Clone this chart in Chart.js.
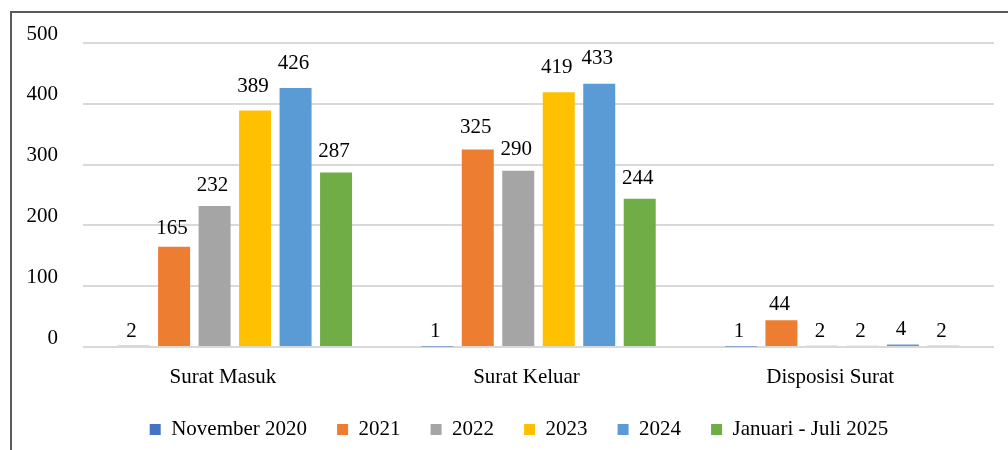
<!DOCTYPE html>
<html>
<head>
<meta charset="utf-8">
<script src="https://cdn.jsdelivr.net/npm/chart.js@4.4.1/dist/chart.umd.min.js"></script>
<style>
  html, body { margin: 0; padding: 0; background: #fff; }
  #wrap { position: relative; width: 1008px; height: 450px; overflow: hidden; }
  #frame { position: absolute; left: 10px; top: 11px; width: 1200px; height: 800px;
           border-left: 2px solid #5a5a5a; border-top: 2px solid #5a5a5a; pointer-events: none; }
</style>
</head>
<body>
<div id="wrap">
  <canvas id="chart" width="1008" height="450"></canvas>
  <div id="frame"></div>
</div>
<script>
// --- Data ---
const categories = ['Surat Masuk', 'Surat Keluar', 'Disposisi Surat'];
const seriesNames = ['November 2020', '2021', '2022', '2023', '2024', 'Januari - Juli 2025'];
const nov2020 = [2, 1, 1];
const y2021 = [165, 325, 44];
const y2022 = [232, 290, 2];
const y2023 = [389, 419, 2];
const y2024 = [426, 433, 4];
const janJul2025 = [287, 244, 2];
const yTicks = [0, 100, 200, 300, 400, 500];

const colors = ['#4472C4', '#ED7D31', '#A5A5A5', '#FFC000', '#5B9BD5', '#70AD47'];
const allValues = [nov2020, y2021, y2022, y2023, y2024, janJul2025];

const FONT = '"Liberation Serif", "Times New Roman", serif';
const FONT_SIZE = 21;

// --- Value labels above bars ---
const valueLabels = {
  id: 'valueLabels',
  afterDatasetsDraw(chart) {
    const ctx = chart.ctx;
    ctx.save();
    ctx.font = FONT_SIZE + 'px ' + FONT;
    ctx.fillStyle = '#000';
    ctx.textAlign = 'center';
    ctx.textBaseline = 'alphabetic';
    chart.data.datasets.forEach((ds, i) => {
      chart.getDatasetMeta(i).data.forEach((bar, j) => {
        const gap = 9 + ds.data[j] * 0.024;
        ctx.fillText(String(ds.data[j]), bar.x - 2, bar.y - gap);
      });
    });
    ctx.restore();
  }
};

// --- Keep legend items spread wide but its block short, nudged right ---
const legendTweak = {
  id: 'legendTweak',
  beforeUpdate(chart) {
    const lg = chart.legend;
    if (lg && !lg._patched) {
      const fit = lg.fit;
      const draw = lg.draw;
      lg.fit = function () { fit.call(this); this.height = 57; };
      lg.draw = function () {
        this.ctx.save();
        this.ctx.translate(22, 0);
        draw.call(this);
        this.ctx.restore();
      };
      lg._patched = true;
    }
  }
};

const ctx = document.getElementById('chart').getContext('2d');
new Chart(ctx, {
  type: 'bar',
  data: {
    labels: categories,
    datasets: seriesNames.map((name, i) => ({
      label: name,
      data: allValues[i],
      backgroundColor: colors[i],
      categoryPercentage: 0.8,
      barPercentage: 0.79
    }))
  },
  options: {
    responsive: false,
    animation: false,
    layout: { padding: { top: 43, right: 14, left: 0, bottom: 4 } },
    plugins: {
      legend: {
        position: 'bottom',
        labels: {
          font: { family: FONT, size: FONT_SIZE },
          color: '#000',
          boxWidth: 11,
          boxHeight: 11,
          padding: 30
        }
      },
      tooltip: { enabled: false }
    },
    scales: {
      x: {
        grid: { display: false, drawTicks: false },
        border: { display: false },
        afterFit(axis) { axis.height = 42; },
        ticks: {
          font: { family: FONT, size: FONT_SIZE },
          color: '#000',
          padding: 18,
          labelOffset: -12
        }
      },
      y: {
        min: 0,
        max: 500,
        afterBuildTicks(axis) { axis.ticks = yTicks.map(v => ({ value: v })); },
        afterFit(axis) { axis.width = 83; },
        grid: { color: '#d9d9d9', lineWidth: 2, drawTicks: false },
        border: { display: false },
        ticks: {
          font: { family: FONT, size: FONT_SIZE },
          color: '#000',
          padding: 25,
          labelOffset: -9
        }
      }
    }
  },
  plugins: [valueLabels, legendTweak]
});
</script>
</body>
</html>
